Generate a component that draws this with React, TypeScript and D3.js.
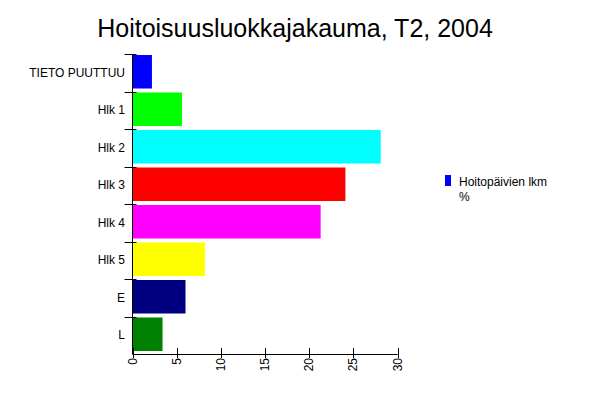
import React, { useEffect, useRef } from 'react';
import * as d3 from 'd3';

const categories = ['TIETO PUUTTUU', 'Hlk 1', 'Hlk 2', 'Hlk 3', 'Hlk 4', 'Hlk 5', 'E', 'L'];
const values = [2.2, 5.6, 28.1, 24.1, 21.3, 8.2, 6.0, 3.4];
const barColors = ['#0000ff', '#00ff00', '#00ffff', '#ff0000', '#ff00ff', '#ffff00', '#000080', '#008000'];
const xTicks = [0, 5, 10, 15, 20, 25, 30];
const title = 'Hoitoisuusluokkajakauma, T2, 2004';
const legendLabel = ['Hoitopäivien lkm', '%'];

const App: React.FC = () => {
    const ref = useRef<SVGSVGElement>(null);
    const W = 598;
    const H = 398;
    const plot = { left: 132.5, right: 397.5, top: 54, bottom: 354 };

    useEffect(() => {
        if (!ref.current) return;
        const svg = d3.select(ref.current);
        svg.selectAll('*').remove();
        const font = '"Liberation Sans", Arial, sans-serif';

        svg.append('rect').attr('width', W).attr('height', H).attr('fill', '#fff');

        // titteli
        svg.append('text')
            .attr('x', 295)
            .attr('y', 37)
            .attr('text-anchor', 'middle')
            .attr('font-family', font)
            .attr('font-size', 25)
            .text(title);

        const x = d3.scaleLinear().domain([0, 30]).range([plot.left, plot.right]);
        const band = d3.scaleBand().domain(categories).range([plot.top, plot.bottom]);

        // palkit
        svg.selectAll('.bar')
            .data(categories)
            .enter()
            .append('rect')
            .attr('x', x(0))
            .attr('y', (d) => (band(d) ?? 0) + 1)
            .attr('width', (d, i) => x(values[i]) - x(0))
            .attr('height', band.bandwidth() - 4)
            .attr('fill', (d, i) => barColors[i]);

        const axisColor = '#000';
        // y-akseli
        svg.append('line')
            .attr('x1', plot.left).attr('x2', plot.left)
            .attr('y1', plot.top).attr('y2', plot.bottom)
            .attr('stroke', axisColor);
        svg.selectAll('.ytick')
            .data(categories)
            .enter()
            .append('line')
            .attr('x1', plot.left - 8).attr('x2', plot.left + 4)
            .attr('y1', (d) => Math.round(band(d) ?? 0) + 0.5)
            .attr('y2', (d) => Math.round(band(d) ?? 0) + 0.5)
            .attr('stroke', axisColor);
        svg.selectAll('.ylabel')
            .data(categories)
            .enter()
            .append('text')
            .attr('x', 125)
            .attr('y', (d) => (band(d) ?? 0) + band.bandwidth() / 2 + 4)
            .attr('text-anchor', 'end')
            .attr('font-family', font)
            .attr('font-size', 12)
            .text((d) => d);

        // x-akseli
        svg.append('line')
            .attr('x1', plot.left).attr('x2', plot.right)
            .attr('y1', plot.bottom + 0.5).attr('y2', plot.bottom + 0.5)
            .attr('stroke', axisColor);
        svg.selectAll('.xtick')
            .data(xTicks)
            .enter()
            .append('line')
            .attr('x1', (d) => Math.round(x(d)) + 0.5)
            .attr('x2', (d) => Math.round(x(d)) + 0.5)
            .attr('y1', plot.bottom - 6)
            .attr('y2', plot.bottom + 4)
            .attr('stroke', axisColor);
        // tekstit luetaan alhaalta ylös
        svg.selectAll('.xlabel')
            .data(xTicks)
            .enter()
            .append('text')
            .attr('transform', (d) => `translate(${x(d) + 4},${plot.bottom + 4}) rotate(-90)`)
            .attr('text-anchor', 'end')
            .attr('font-family', font)
            .attr('font-size', 12)
            .text((d) => d);

        // selite
        svg.append('rect')
            .attr('x', 445).attr('y', 175)
            .attr('width', 6).attr('height', 11)
            .attr('fill', '#0000ff');
        svg.selectAll('.legend')
            .data(legendLabel)
            .enter()
            .append('text')
            .attr('x', 459)
            .attr('y', (d, i) => 186 + i * 15)
            .attr('font-family', font)
            .attr('font-size', 12)
            .text((d) => d);
    }, []);

    return <svg ref={ref} width={W} height={H} style={{ position: 'absolute', left: 0, top: 0 }} />;
};

export default App;
